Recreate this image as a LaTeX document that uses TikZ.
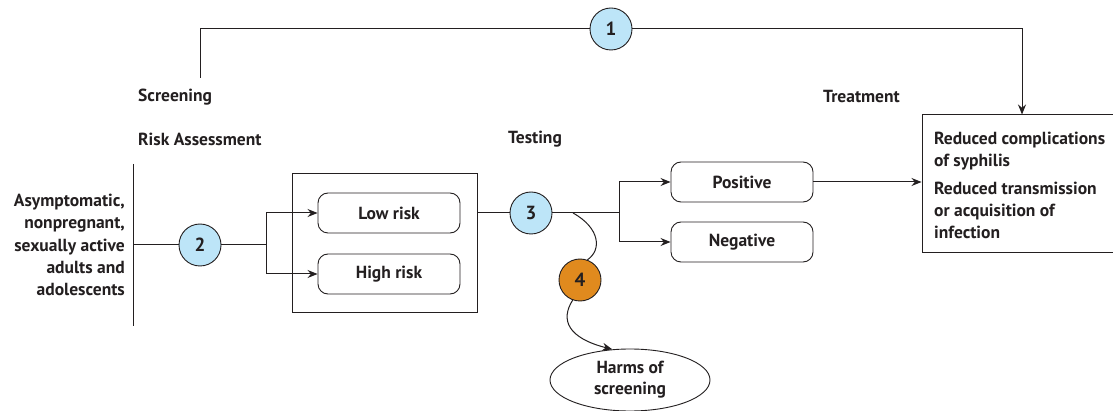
\documentclass[tikz,border=0pt]{standalone}
\usepackage{fontspec}
\setmainfont{PT Sans}
\usetikzlibrary{arrows.meta,shapes.geometric}
\definecolor{ink}{HTML}{231F20}
\definecolor{cblue}{HTML}{BDE5F8}
\definecolor{corange}{HTML}{E08A1E}
\newcommand{\tf}{\fontsize{17.5}{22}\selectfont\bfseries}
\tikzset{
  x=1pt,y=-1pt,
  every node/.style={text=ink,font=\tf},
  conn/.style={draw=ink,line width=1pt},
  arr/.style={conn,-{Stealth[length=10pt,width=8pt]}},
  kq/.style={circle,draw=ink,line width=0.9pt,minimum size=42pt,inner sep=0pt,font=\fontsize{19}{22}\selectfont\bfseries},
  rbox/.style={draw=ink,line width=0.9pt,rounded corners=10pt,minimum width=142pt,minimum height=40pt,inner sep=0pt,font=\tf},
  lbl/.style={anchor=west,inner sep=0pt,font=\tf},
}
\begin{document}
\begin{tikzpicture}
\useasboundingbox[fill=white] (0,0) rectangle (1113,411);
% headings
\node[lbl] (scr) at (138,97) {Screening};
\node[lbl] (trt) at (823,97) {Treatment};
\node[lbl] (risk) at (138,139) {Risk Assessment};
\node[lbl] (test) at (508,139) {Testing};
% population
\node[anchor=east,align=right,inner sep=0pt,font=\fontsize{17.5}{22.2}\selectfont\bfseries] (pop) at (125,245)
  {Asymptomatic,\\nonpregnant,\\sexually active\\adults and\\adolescents};
\coordinate (vtop) at (133,164);
\coordinate (vbot) at (133,326);
\coordinate (vmid) at (133,245);
\draw[conn] (vtop) -- (vbot);
% KQ circles
\node[kq,fill=cblue] (c1) at (611,29) {1};
\node[kq,fill=cblue] (c2) at (200,245) {2};
\node[kq,fill=cblue] (c3) at (531,213) {3};
\node[kq,fill=corange] (c4) at (580,280) {4};
% risk box
\node[draw=ink,line width=1pt,minimum width=185pt,minimum height=139pt,inner sep=0pt] (rbig) at (384.5,243.5) {};
\node[rbox] (low) at (389,213) {Low risk};
\node[rbox] (high) at (389,274) {High risk};
% test results
\node[rbox] (pos) at (742,182) {Positive};
\node[rbox] (neg) at (742,242) {Negative};
% outcome box
\node[draw=ink,line width=1pt,minimum width=194pt,minimum height=138pt,inner sep=0pt] (out) at (1019,184) {};
\node[lbl,anchor=north west,align=left] (o1) at (934,132) {Reduced complications\\of syphilis};
\node[lbl,anchor=north west,align=left] (o2) at (934,182) {Reduced transmission\\or acquisition of\\infection};
% harms
\node[ellipse,draw=ink,line width=0.9pt,minimum width=160pt,minimum height=62pt,inner sep=0pt,align=center,font=\fontsize{17.5}{21}\selectfont\bfseries] (harm) at (630,380) {Harms of\\screening};
% overarching arrow
\coordinate (t0) at (200,78);
\coordinate (t1) at (200,29);
\coordinate (t2) at (1022,29);
\draw[conn] (t0) -- (t1) -- (c1);
\draw[arr] (c1) -- (t2) -- (out.north -| t2);
% population to risk
\coordinate (b1) at (266,245);
\draw[conn] (vmid) -- (c2) -- (b1);
\draw[arr] (b1) |- (low.west);
\draw[arr] (b1) |- (high.west);
% risk to testing
\coordinate (b2) at (619,213);
\draw[conn] (rbig.east |- c3) -- (c3) -- (b2);
\draw[arr] (b2) |- (pos.west);
\draw[arr] (b2) |- (neg.west);
\draw[arr] (pos.east) -- (out.west |- pos);
% harms curve
\coordinate (h0) at (573,213);
\draw[conn] (h0) .. controls (600,228) and (602,250) .. (c4.70);
\draw[arr] (c4.250) .. controls (560,320) and (568,338) .. (harm.120);
\end{tikzpicture}
\end{document}
